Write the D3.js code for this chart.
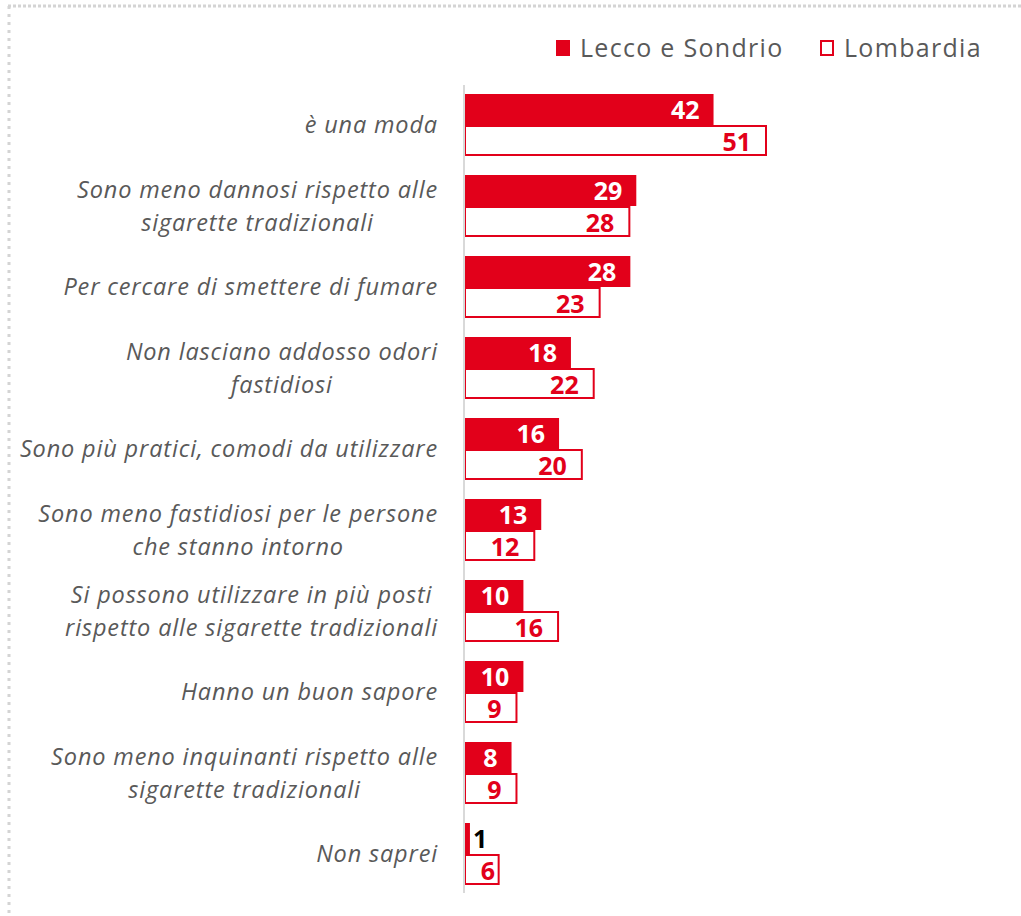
<!DOCTYPE html>
<html><head><meta charset="utf-8">
<script src="https://cdn.jsdelivr.net/npm/d3@7"></script>
<style>body{margin:0;background:#fff;} svg{display:block;}</style>
</head><body>
<svg id="c" width="1021" height="916"></svg>
<script>
const categories = [
  ["è una moda"],
  ["Sono meno dannosi rispetto alle", "sigarette tradizionali"],
  ["Per cercare di smettere di fumare"],
  ["Non lasciano addosso odori", "fastidiosi"],
  ["Sono più pratici, comodi da utilizzare"],
  ["Sono meno fastidiosi per le persone", "che stanno intorno"],
  ["Si possono utilizzare in più posti", "rispetto alle sigarette tradizionali"],
  ["Hanno un buon sapore"],
  ["Sono meno inquinanti rispetto alle", "sigarette tradizionali"],
  ["Non saprei"]
];
const seriesNames = ["Lecco e Sondrio", "Lombardia"];
const leccoSondrio = [42, 29, 28, 18, 16, 13, 10, 10, 8, 1];
const lombardia = [51, 28, 23, 22, 20, 12, 16, 9, 9, 6];

const RED = "#e2001a", GREY = "#595959";
const FONT = "'Open Sans', sans-serif";
const svg = d3.select("#c");

// dotted frame
svg.append("line").attr("x1",8).attr("x2",1021).attr("y1",6).attr("y2",6)
  .attr("stroke","#d4d4d4").attr("stroke-width",3).attr("stroke-dasharray","3,2");
svg.append("line").attr("x1",9).attr("x2",9).attr("y1",6).attr("y2",916)
  .attr("stroke","#d4d4d4").attr("stroke-width",3).attr("stroke-dasharray","3,5");

const ids = d3.range(categories.length);
const y = d3.scaleBand().domain(ids).range([84.5, 894.5]).paddingInner(0.2346).paddingOuter(0.1173);
const x = d3.scaleLinear().domain([0, 51]).range([464, 767]);
const bh = y.bandwidth()/2;

const g = svg.append("g");
g.selectAll("rect.a").data(leccoSondrio).join("rect").attr("class","a")
  .attr("x", x(0)).attr("y", (d,i)=>y(i)).attr("width", d=>x(d)-x(0)).attr("height", bh)
  .attr("fill", RED);
g.selectAll("rect.b").data(lombardia).join("rect").attr("class","b")
  .attr("x", x(0)+1).attr("y", (d,i)=>y(i)+bh+1).attr("width", d=>x(d)-x(0)-2).attr("height", bh-2)
  .attr("fill", "#fff").attr("stroke", RED).attr("stroke-width", 2);

// axis line
svg.append("g").attr("transform",`translate(${x(0)},0)`)
  .call(d3.axisLeft(y).tickSize(0).tickFormat(""))
  .call(s=>s.select(".domain").attr("stroke","#d9d9d9").attr("stroke-width",2).attr("d",`M0,85V893`));

// value labels
g.selectAll("text.a").data(leccoSondrio).join("text").attr("class","a")
  .attr("x", d=> d<3 ? x(d)+3 : x(d)-14)
  .attr("y", (d,i)=>y(i)+bh/2+9)
  .attr("text-anchor", d=> d<3 ? "start" : "end")
  .attr("fill", d=> d<3 ? "#000" : "#fff")
  .attr("font-family", FONT).attr("font-weight", 700).attr("font-size", 25)
  .text(d=>d);
g.selectAll("text.b").data(lombardia).join("text").attr("class","b")
  .attr("x", d=>Math.max(x(d)-16, x(0)+31))
  .attr("y", (d,i)=>y(i)+bh*1.5+10.5)
  .attr("text-anchor", "end")
  .attr("fill", RED)
  .attr("font-family", FONT).attr("font-weight", 700).attr("font-size", 25)
  .text(d=>d);

// category labels
const lab = svg.append("g").attr("font-family", FONT).attr("font-style","italic")
  .attr("font-size", 23.5).attr("letter-spacing", 0.85).attr("fill", GREY);
categories.forEach((lines, i) => {
  const t = lab.append("text").attr("text-anchor","middle");
  const cy = y(i) + y.bandwidth()/2;
  const lh = 33;
  lines.forEach((ln, j) => {
    t.append("tspan").attr("y", cy + (j - (lines.length-1)/2)*lh + 8).text(ln);
  });
  let maxW = 0;
  t.selectAll("tspan").each(function(){ maxW = Math.max(maxW, this.getComputedTextLength()); });
  t.selectAll("tspan").attr("x", 438 - maxW/2);
});

// legend
const leg = svg.append("g").attr("font-family", FONT).attr("font-size", 25).attr("letter-spacing", 1.3).attr("fill", GREY);
const legX = [556, 820];
seriesNames.forEach((n, i) => {
  leg.append("rect").attr("x", legX[i]+ (i?1:0)).attr("y", 40 + (i?1:0)).attr("width", i?12:14).attr("height", i?14:16)
    .attr("fill", i ? "#fff" : RED).attr("stroke", i ? RED : "none").attr("stroke-width", 2);
  leg.append("text").attr("x", legX[i] + 24).attr("y", 57).text(n);
});
</script>
</body></html>
